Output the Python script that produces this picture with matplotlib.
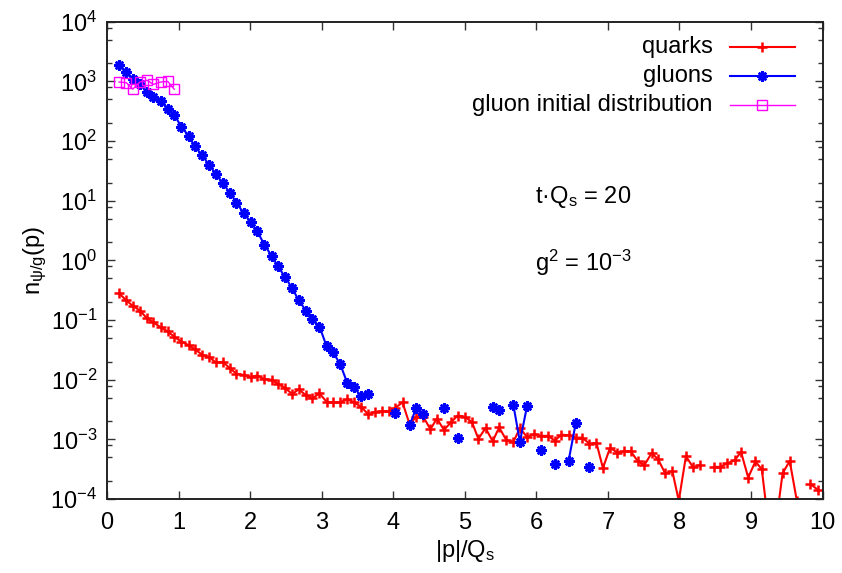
import numpy as np
import matplotlib
matplotlib.use('Agg')
import matplotlib.pyplot as plt
from matplotlib.lines import Line2D
from matplotlib.ticker import LogLocator, NullFormatter, MultipleLocator

plt.rcParams['font.family'] = ['Liberation Sans', 'DejaVu Sans']
plt.rcParams['mathtext.default'] = 'regular'
plt.rcParams['axes.unicode_minus'] = False

# momentum bins |p|/Q_s
p = [0.17, 0.27, 0.36, 0.46, 0.56, 0.65, 0.75, 0.85, 0.94, 1.04,
     1.14, 1.23, 1.33, 1.43, 1.52, 1.62, 1.72, 1.81, 1.91, 2.01,
     2.10, 2.20, 2.30, 2.39, 2.49, 2.59, 2.68, 2.78, 2.87, 2.97,
     3.07, 3.16, 3.26, 3.36, 3.45, 3.55, 3.65, 3.74, 3.84, 3.94,
     4.03, 4.13, 4.23, 4.32, 4.42, 4.52, 4.61, 4.71, 4.81, 4.90,
     5.00, 5.10, 5.19, 5.29, 5.39, 5.48, 5.58, 5.68, 5.77, 5.87,
     5.97, 6.06, 6.16, 6.26, 6.35, 6.45, 6.55, 6.64, 6.74, 6.84,
     6.93, 7.03, 7.13, 7.22, 7.32, 7.42, 7.51, 7.61, 7.70, 7.80,
     7.90, 7.99, 8.09, 8.19, 8.28, 8.38, 8.48, 8.57, 8.67, 8.77,
     8.86, 8.96, 9.06, 9.15, 9.25, 9.35, 9.44, 9.54, 9.64, 9.73,
     9.83, 9.93]

# log10 of occupation numbers (None = empty bin)
quark_log10 = [-0.55, -0.67, -0.76, -0.84, -0.97, -1.04, -1.12, -1.19, -1.28, -1.36,
               -1.42, -1.49, -1.58, -1.62, -1.71, -1.70, -1.81, -1.90, -1.92, -1.95,
               -1.93, -1.99, -2.00, -2.07, -2.14, -2.24, -2.16, -2.26, -2.31, -2.23,
               -2.37, -2.38, -2.38, -2.32, -2.38, -2.45, -2.58, -2.54, -2.53, -2.53,
               -2.47, -2.38, -2.75, -2.62, -2.62, -2.83, -2.65, -2.84, -2.71, -2.60,
               -2.62, -2.71, -2.99, -2.81, -3.03, -2.80, -3.01, -3.04, -2.81, -2.96,
               -2.91, -2.94, -2.94, -3.02, -2.92, -2.93, -2.97, -2.97, -3.07, -3.06,
               -3.48, -3.14, -3.22, -3.20, -3.20, -3.37, -3.43, -3.23, -3.33, -3.57,
               -3.53, -4.03, -3.28, -3.47, -3.43, None, -3.46, -3.46, -3.40, -3.35,
               -3.21, -3.64, -3.37, -3.50, -4.5, -4.4, -3.57, -3.36, -4.03, None,
               -3.75, -3.84]

gluon_log10 = [3.28, 3.15, 3.04, 2.96, 2.82, 2.74, 2.67, 2.54, 2.44, 2.24,
               2.09, 1.91, 1.76, 1.60, 1.45, 1.29, 1.13, 0.97, 0.79, 0.64,
               0.49, 0.26, 0.08, -0.10, -0.28, -0.47, -0.67, -0.84, -0.98, -1.11,
               -1.44, -1.54, -1.74, -2.06, -2.12, -2.28, -2.24, None, None, None,
               -2.56, None, -2.76, -2.48, -2.57, None, None, -2.48, None, -2.97,
               None, None, None, None, -2.45, -2.50, None, -2.43, -3.04, -2.44,
               None, -3.18, None, -3.41, None, -3.36, -2.73, None, -3.47]

init_log10 = [2.99, 2.98, 2.87, 2.99, 3.02, 2.95, 2.99, 3.00, 2.87]

labels = ['quarks', 'gluons', 'gluon initial distribution']


def to_n(vals):
    return np.array([np.nan if v is None else 10.0 ** v for v in vals])


quarks = to_n(quark_log10)
gluons = to_n(gluon_log10)
initial = to_n(init_log10)

fs = 17

fig = plt.figure(figsize=(8.42, 5.73), dpi=100)
ax = fig.add_axes([0.127, 0.129, 0.85, 0.833])

styles = [
    dict(color='#ff0000', lw=1.5, marker='+', ms=6.5, mew=1.8),
    dict(color='#0000ff', lw=1.5, marker=(8, 2, 0), ms=7.5, mew=1.8),
    dict(color='#ff00ff', lw=1.0, marker='s', ms=6.5, mew=1.0, mfc='none'),
]

ax.plot(p, quarks, **styles[0])
ax.plot(p[:len(gluons)], gluons, **styles[1])
ax.plot(p[:len(initial)], initial, **styles[2])

ax.set_yscale('log')
ax.set_xlim(0, 10)
ax.set_ylim(1e-4, 1e4)
ax.xaxis.set_major_locator(MultipleLocator(1))
ax.yaxis.set_major_locator(LogLocator(base=10, numticks=20))
ax.yaxis.set_minor_locator(LogLocator(base=10, subs=[2, 5, 8], numticks=20))
ax.yaxis.set_minor_formatter(NullFormatter())

ax.tick_params(which='both', direction='in', top=True, right=True,
               labelsize=fs, width=1.0, color='#333333')
ax.tick_params(which='major', length=6)
ax.tick_params(which='minor', length=3.5)
ax.tick_params(axis='x', pad=9)
ax.tick_params(axis='y', pad=7)
for s in ax.spines.values():
    s.set_linewidth(1.4)
    s.set_color('#222222')

ax.set_xlabel('|p|/Q$_{s}$', fontsize=fs, labelpad=3)
ax.set_ylabel('n$_{ψ/g}$(p)', fontsize=fs, labelpad=1)

ax.text(0.598, 0.633, 't·Q$_{s}$ = 20', transform=ax.transAxes, fontsize=fs,
        va='center', ha='left')
ax.text(0.598, 0.495, 'g$^{2}$ = 10$^{-3}$', transform=ax.transAxes,
        fontsize=fs, va='center', ha='left')

# gnuplot-style key: right-aligned labels, sample line to the right
key_y = [0.948, 0.887, 0.826]
for lab, st, yk in zip(labels, styles, key_y):
    ax.text(0.846, yk, lab, transform=ax.transAxes, fontsize=fs,
            ha='right', va='center')
    ax.add_line(Line2D([0.870, 0.961], [yk, yk], transform=ax.transAxes,
                       color=st['color'], lw=st['lw']))
    mk = {k: v for k, v in st.items() if k not in ('color', 'lw')}
    ax.add_line(Line2D([0.9155], [yk], transform=ax.transAxes,
                       color=st['color'], ls='none', **mk))

fig.savefig('out.png', dpi=100)
